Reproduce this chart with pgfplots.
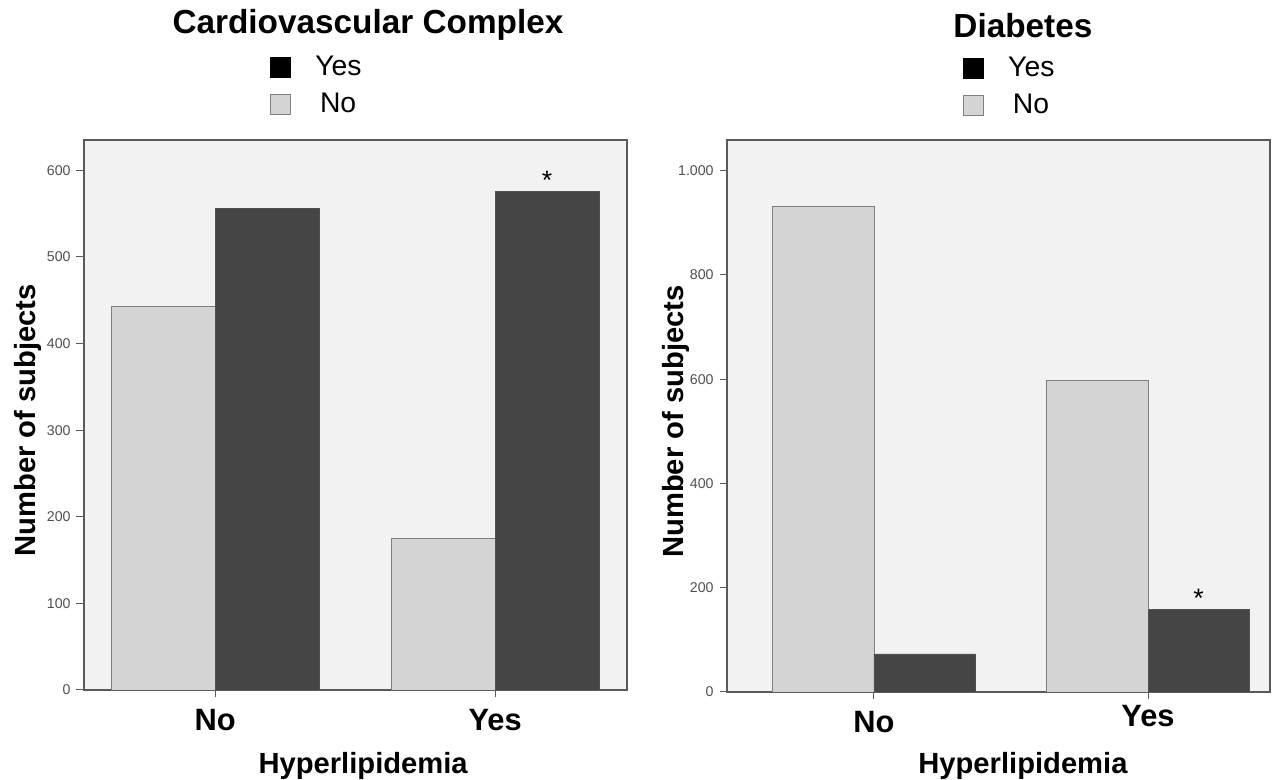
\documentclass[border=0pt]{standalone}
\usepackage{fontspec}
\setmainfont{Liberation Sans}
\usepackage{pgfplots}
\pgfplotsset{compat=1.18}
\definecolor{bgc}{RGB}{242,242,242}
\definecolor{lightbar}{RGB}{212,212,212}
\definecolor{darkbar}{RGB}{69,69,69}
\definecolor{axc}{RGB}{90,90,90}
\definecolor{tickc}{RGB}{80,80,80}
\begin{document}
\begin{tikzpicture}
\useasboundingbox (0,0) rectangle (771.6pt,468pt);
\pgfplotsset{
 mystyle/.style={
  scale only axis, width=325.8pt,
  axis background/.style={fill=bgc},
  axis line style={axc, line width=0.7pt},
  ybar=0pt,
  ymin=0,
  xtick={0,1},
  xticklabel style={font=\fontsize{18.5}{22}\selectfont\bfseries, text=black, anchor=base, yshift=-20pt},
  tick style={axc, line width=0.6pt},
  tick align=outside, major tick length=4.5pt,
  tick pos=left,
  yticklabel style={font=\fontsize{8.5}{10}\selectfont, text=tickc},
  /pgf/number format/assume math mode=true,
  /pgf/number format/1000 sep={.},
  xlabel={Hyperlipidemia}, ylabel={Number of subjects},
  label style={font=\fontsize{17.5}{20}\selectfont\bfseries},
  title style={font=\fontsize{20}{24}\selectfont\bfseries, anchor=center, yshift=-6pt},
  legend style={draw=none, fill=none, font=\fontsize{17}{20}\selectfont, anchor=north west, row sep=5pt, column sep=13pt},
  legend cell align=left,
 },
 yesleg/.style={legend image code/.code={\draw[fill=black,draw=black] (0pt,-6pt) rectangle (12pt,6pt);}},
 noleg/.style={legend image code/.code={\draw[fill=lightbar,draw=gray] (0pt,-6pt) rectangle (12pt,6pt);}},
}
% Left panel
\begin{axis}[mystyle,
  at={(50.4pt,54pt)}, anchor=south west, height=330pt,
  xmin=-0.468, xmax=1.471, ymax=635,
  ytick={0,100,...,600},
  xticklabels={No,Yes},
  bar width=0.371,
  title={Cardiovascular Complex},
  title style={at={(axis description cs:0.523,1.209)}},
  xlabel style={at={(axis description cs:0.514,-0.138)}, anchor=center},
  ylabel style={at={(axis description cs:-0.103,0.49)}, anchor=center},
  legend style={at={(axis description cs:0.332,1.165)}},
]
\addlegendimage{yesleg}
\addlegendentry{Yes}
\addlegendimage{noleg}
\addlegendentry{\,No}
\addplot[fill=lightbar, draw=gray, line width=0.5pt, bar shift=-0.1855, forget plot] coordinates {(0,443) (1,175)};
\addplot[fill=darkbar, draw=darkbar!80!gray, line width=0.5pt, bar shift=0.1855, forget plot] coordinates {(0,556) (1,576)};
\node[anchor=base, font=\fontsize{16}{18}\selectfont, yshift=1pt] at (axis cs:1.1855,576) {*};
\end{axis}
% Right panel
\begin{axis}[mystyle,
  at={(436.2pt,52.8pt)}, anchor=south west, height=331.2pt,
  xmin=-0.536, xmax=1.445, ymax=1059,
  ytick={0,200,...,1000},
  xticklabels={No,\raisebox{4pt}{Yes}},
  bar width=0.369,
  title={Diabetes},
  title style={at={(axis description cs:0.545,1.208)}},
  xlabel style={at={(axis description cs:0.545,-0.134)}, anchor=center},
  ylabel style={at={(axis description cs:-0.094,0.49)}, anchor=center},
  legend style={at={(axis description cs:0.424,1.163)}},
]
\addlegendimage{yesleg}
\addlegendentry{Yes}
\addlegendimage{noleg}
\addlegendentry{\,No}
\addplot[fill=lightbar, draw=gray, line width=0.5pt, bar shift=-0.1845, forget plot] coordinates {(0,931) (1,597)};
\addplot[fill=darkbar, draw=darkbar!80!gray, line width=0.5pt, bar shift=0.1845, forget plot] coordinates {(0,73) (1,159)};
\node[anchor=base, font=\fontsize{16}{18}\selectfont, yshift=1pt] at (axis cs:1.1845,159) {*};
\end{axis}
\end{tikzpicture}
\end{document}
